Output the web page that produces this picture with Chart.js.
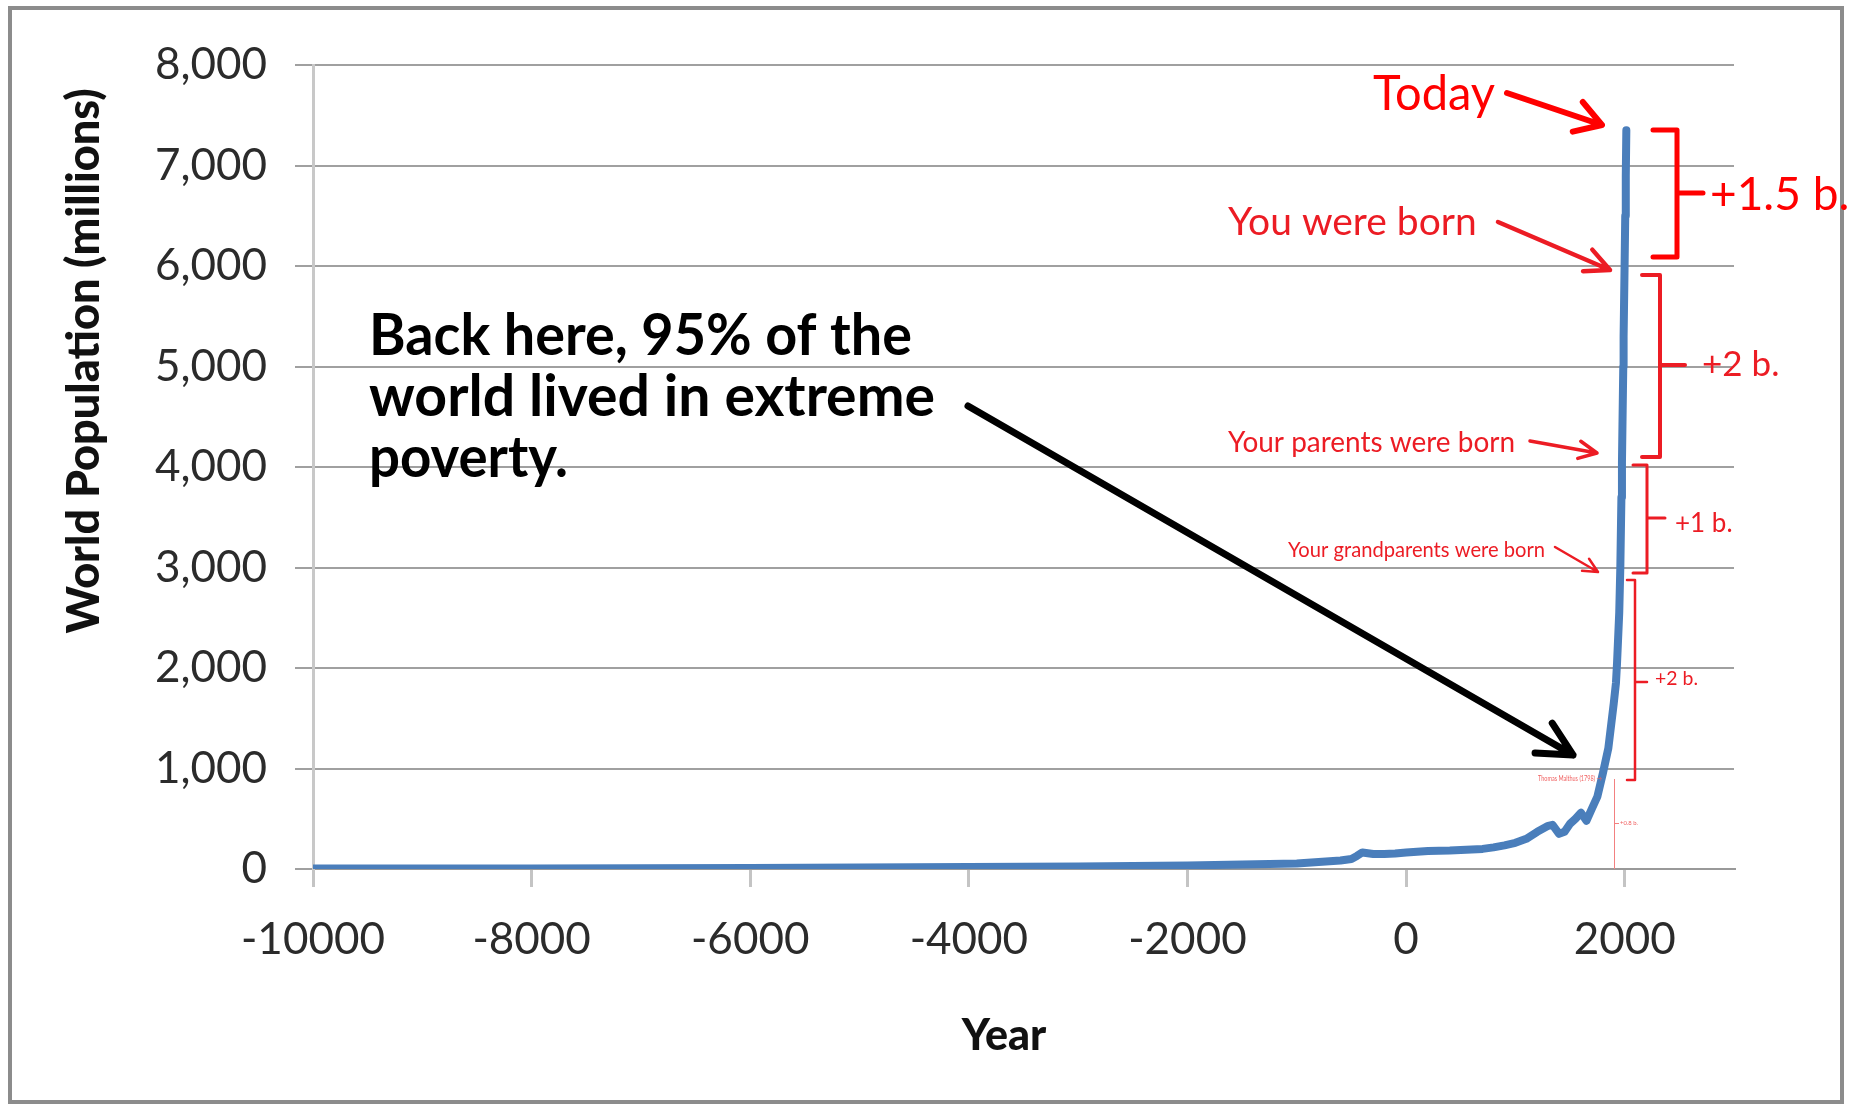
<!DOCTYPE html>
<html lang="en"><head>
<meta charset="utf-8">
<title>World Population</title>
<script src="https://cdn.jsdelivr.net/npm/chart.js@4"></script>
<style>
*{box-sizing:border-box;margin:0;padding:0}
html,body{background:#fff;width:1856px;height:1104px;overflow:hidden}
canvas{display:block}
</style></head><body>
<canvas id="c" width="1856" height="1104"></canvas>
<script>
// world population estimates (millions)
const years=[-10000,-9000,-8000,-7000,-6000,-5000,-4000,-3000,-2000,-1500,-1000,-800,-600,-500,-450,-400,-300,-200,-100,1,200,400,500,600,700,800,900,1000,1100,1200,1250,1300,1340,1400,1450,1500,1550,1600,1650,1700,1750,1800,1850,1900,1920,1930,1940,1950,1960,1970,1975,1980,1987,1990,1999,2005,2010,2015];
const population=[4,5,5,7,10,15,20,25,35,45,55,70,85,100,130,165,150,150,155,165,180,185,190,195,200,215,235,260,300,370,400,430,440,350,370,450,500,560,480,600,720,950,1200,1650,1850,2050,2300,2550,3000,3700,4050,4450,5000,5300,6000,6500,6900,7350];
const xTicks=[-10000,-8000,-6000,-4000,-2000,0,2000];
const yTicks=[0,1000,2000,3000,4000,5000,6000,7000,8000];

Chart.defaults.font.family='Lato, "Open Sans", sans-serif';
const red='#ff0000', red2='#ec1c24';

function arrow(ctx,x1,y1,x2,y2,lw,color,head,spread){
  const a=Math.atan2(y2-y1,x2-x1);
  ctx.save();ctx.strokeStyle=color;ctx.lineWidth=lw;ctx.lineCap='round';ctx.lineJoin='round';
  ctx.beginPath();ctx.moveTo(x1,y1);ctx.lineTo(x2,y2);
  ctx.moveTo(x2-head*Math.cos(a-spread),y2-head*Math.sin(a-spread));
  ctx.lineTo(x2,y2);
  ctx.lineTo(x2-head*Math.cos(a+spread),y2-head*Math.sin(a+spread));
  ctx.stroke();ctx.restore();
}
function bracket(ctx,xEnd,xSpine,yTop,yBot,yMid,xTip,lw,color){
  ctx.save();ctx.strokeStyle=color;ctx.lineWidth=lw;ctx.lineCap='round';ctx.lineJoin='round';
  ctx.beginPath();
  ctx.moveTo(xEnd,yTop);ctx.lineTo(xSpine,yTop);ctx.lineTo(xSpine,yBot);ctx.lineTo(xEnd,yBot);
  ctx.moveTo(xSpine,yMid);ctx.lineTo(xTip,yMid);
  ctx.stroke();ctx.restore();
}
function text(ctx,str,x,y,font,color,maxW,align){
  ctx.save();ctx.font=font;ctx.fillStyle=color;ctx.textAlign=align||'left';ctx.textBaseline='alphabetic';
  if(maxW) ctx.fillText(str,x,y,maxW); else ctx.fillText(str,x,y);
  ctx.restore();
}

const frame={id:'frame',beforeDraw(chart){
  const ctx=chart.ctx;
  ctx.save();ctx.fillStyle='#fff';ctx.fillRect(0,0,chart.width,chart.height);
  ctx.strokeStyle='#8c8c8c';ctx.lineWidth=4;ctx.strokeRect(10,8,1832,1094);ctx.restore();
}};

const notes={id:'notes',afterDraw(chart){
  const ctx=chart.ctx;
  // axis titles
  ctx.save();ctx.translate(84,361);ctx.rotate(-Math.PI/2);
  ctx.font='900 45px Lato';ctx.fillStyle='#111';ctx.textAlign='center';ctx.textBaseline='middle';
  ctx.fillText('World Population (millions)',0,0,580);ctx.restore();
  text(ctx,'Year',1004,1050,'900 43px Lato','#111',0,'center');

  // black callout
  text(ctx,'Back here, 95% of the',369,355,'bold 58px Lato','#000',543);
  text(ctx,'world lived in extreme',369,416,'bold 58px Lato','#000',566);
  text(ctx,'poverty.',369,477,'bold 58px Lato','#000',199);
  arrow(ctx,968,406,1573,755,7,'#000',38,0.47);

  // red annotations
  text(ctx,'Today',1373,110,'48px Lato',red,122);
  arrow(ctx,1507,93,1602,125,6,red,30,0.55);
  bracket(ctx,1653,1677,130,257,193,1703,5,red);
  text(ctx,'+1.5 b.',1710,210,'46px Lato',red,145);

  text(ctx,'You were born',1228,235,'39px Lato',red2,250);
  arrow(ctx,1498,222,1610,270,4.5,red2,27,0.45);
  bracket(ctx,1642,1660,275,457,365,1685,4,red2);
  text(ctx,'+2 b.',1702,376,'35px Lato',red2,81);

  text(ctx,'Your parents were born',1228,452,'28px Lato',red2,287);
  arrow(ctx,1530,441,1597,453,3.5,red2,20,0.45);
  bracket(ctx,1633,1647,465,573,518,1665,3,red2);
  text(ctx,'+1 b.',1675,532,'26px Lato',red2,60);

  text(ctx,'Your grandparents were born',1288,557,'21px Lato',red2,257);
  arrow(ctx,1555,547,1598,572,2.5,red2,16,0.45);
  bracket(ctx,1627,1635,580,780,682,1647,2.5,red2);
  text(ctx,'+2 b.',1655,685,'20px Lato',red2,43);

  // tiny note under the curve
  text(ctx,'Thomas Malthus (1798) \u2192',1538,781,'7px Lato','#f06060',64);
  ctx.save();ctx.strokeStyle='#f38080';ctx.lineWidth=1;ctx.beginPath();
  ctx.moveTo(1614.5,779);ctx.lineTo(1614.5,869);ctx.moveTo(1614.5,823.5);ctx.lineTo(1619,823.5);ctx.stroke();ctx.restore();
  text(ctx,'+0.8 b.',1620,825,'6px Lato','#f06060',18);
}};

new Chart(document.getElementById('c'),{
  type:'line',
  data:{datasets:[{data:years.map((x,i)=>({x,y:population[i]})),borderColor:'#4a7ebb',borderWidth:8,
    pointRadius:0,tension:0,borderCapStyle:'round',borderJoinStyle:'round'}]},
  options:{
    responsive:false,animation:false,events:[],
    layout:{padding:{top:65,right:122,left:0,bottom:0}},
    plugins:{legend:{display:false},tooltip:{enabled:false}},
    scales:{
      x:{type:'linear',min:-10000,max:3000,
        afterFit:s=>{s.height=235},
        afterBuildTicks:s=>{s.ticks=xTicks.map(v=>({value:v}))},
        grid:{drawOnChartArea:false,tickLength:18,color:'#c4c4c4',lineWidth:3},
        border:{color:'#999',width:2},
        ticks:{font:{size:44},color:'#2b2b2b',padding:26,maxRotation:0,autoSkip:false,callback:v=>String(v)}},
      y:{min:0,max:8000,
        afterFit:s=>{s.width=313},
        afterBuildTicks:s=>{s.ticks=yTicks.map(v=>({value:v}))},
        grid:{color:'#a0a0a0',lineWidth:2,tickLength:18},
        border:{color:'#c8c8c8',width:3},
        ticks:{font:{size:44},color:'#2b2b2b',padding:28,callback:v=>v.toLocaleString('en-US')}}
    }
  },
  plugins:[frame,notes]
});
</script></body></html>
